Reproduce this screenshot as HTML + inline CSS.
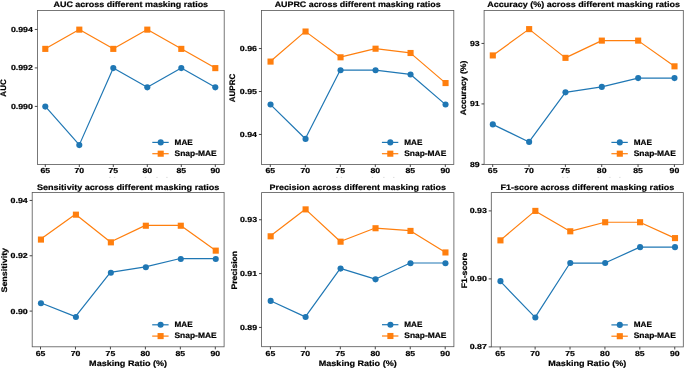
<!DOCTYPE html>
<html><head><meta charset="utf-8"><style>
html,body{margin:0;padding:0;background:#fff;width:685px;height:368px;overflow:hidden}
svg{display:block;will-change:transform}
text{font-family:"Liberation Sans",sans-serif;font-weight:bold;fill:#000;stroke:#000;stroke-width:0.2px;text-rendering:geometricPrecision}
</style></head><body>
<svg width="685" height="368" viewBox="0 0 685 368">
<defs><clipPath id="clipTop"><rect x="0" y="170" width="685" height="8.0"/></clipPath></defs>
<rect width="685" height="368" fill="#fff"/>
<polyline points="45.30,106.40 79.30,144.88 113.30,67.92 147.30,87.16 181.30,67.92 215.30,87.16" fill="none" stroke="#1f77b4" stroke-width="1.2" stroke-linejoin="round"/>
<polyline points="45.30,48.68 79.30,29.44 113.30,48.68 147.30,29.44 181.30,48.68 215.30,67.92" fill="none" stroke="#ff7f0e" stroke-width="1.2" stroke-linejoin="round"/>
<circle cx="45.30" cy="106.60" r="3.05" fill="#1f77b4"/>
<circle cx="79.30" cy="145.08" r="3.05" fill="#1f77b4"/>
<circle cx="113.30" cy="68.12" r="3.05" fill="#1f77b4"/>
<circle cx="147.30" cy="87.36" r="3.05" fill="#1f77b4"/>
<circle cx="181.30" cy="68.12" r="3.05" fill="#1f77b4"/>
<circle cx="215.30" cy="87.36" r="3.05" fill="#1f77b4"/>
<rect x="42.25" y="45.83" width="6.1" height="6.1" fill="#ff7f0e"/>
<rect x="76.25" y="26.59" width="6.1" height="6.1" fill="#ff7f0e"/>
<rect x="110.25" y="45.83" width="6.1" height="6.1" fill="#ff7f0e"/>
<rect x="144.25" y="26.59" width="6.1" height="6.1" fill="#ff7f0e"/>
<rect x="178.25" y="45.83" width="6.1" height="6.1" fill="#ff7f0e"/>
<rect x="212.25" y="65.07" width="6.1" height="6.1" fill="#ff7f0e"/>
<rect x="37.40" y="10.40" width="186.80" height="154.00" fill="none" stroke="#555" stroke-width="0.8"/>
<line x1="45.30" y1="164.40" x2="45.30" y2="167.00" stroke="#333" stroke-width="0.9"/>
<text x="45.30" y="173.40" font-size="7.3" text-anchor="middle" textLength="9.67" lengthAdjust="spacingAndGlyphs">65</text>
<line x1="79.30" y1="164.40" x2="79.30" y2="167.00" stroke="#333" stroke-width="0.9"/>
<text x="79.30" y="173.40" font-size="7.3" text-anchor="middle" textLength="9.67" lengthAdjust="spacingAndGlyphs">70</text>
<line x1="113.30" y1="164.40" x2="113.30" y2="167.00" stroke="#333" stroke-width="0.9"/>
<text x="113.30" y="173.40" font-size="7.3" text-anchor="middle" textLength="9.67" lengthAdjust="spacingAndGlyphs">75</text>
<line x1="147.30" y1="164.40" x2="147.30" y2="167.00" stroke="#333" stroke-width="0.9"/>
<text x="147.30" y="173.40" font-size="7.3" text-anchor="middle" textLength="9.67" lengthAdjust="spacingAndGlyphs">80</text>
<line x1="181.30" y1="164.40" x2="181.30" y2="167.00" stroke="#333" stroke-width="0.9"/>
<text x="181.30" y="173.40" font-size="7.3" text-anchor="middle" textLength="9.67" lengthAdjust="spacingAndGlyphs">85</text>
<line x1="215.30" y1="164.40" x2="215.30" y2="167.00" stroke="#333" stroke-width="0.9"/>
<text x="215.30" y="173.40" font-size="7.3" text-anchor="middle" textLength="9.67" lengthAdjust="spacingAndGlyphs">90</text>
<line x1="34.80" y1="106.40" x2="37.40" y2="106.40" stroke="#333" stroke-width="0.9"/>
<text x="32.90" y="108.90" font-size="7.3" text-anchor="end" textLength="21.98" lengthAdjust="spacingAndGlyphs">0.990</text>
<line x1="34.80" y1="67.92" x2="37.40" y2="67.92" stroke="#333" stroke-width="0.9"/>
<text x="32.90" y="70.42" font-size="7.3" text-anchor="end" textLength="21.98" lengthAdjust="spacingAndGlyphs">0.992</text>
<line x1="34.80" y1="29.44" x2="37.40" y2="29.44" stroke="#333" stroke-width="0.9"/>
<text x="32.90" y="31.94" font-size="7.3" text-anchor="end" textLength="21.98" lengthAdjust="spacingAndGlyphs">0.994</text>
<text x="130.80" y="6.80" font-size="8.0" text-anchor="middle" textLength="154.56" lengthAdjust="spacingAndGlyphs">AUC across different masking ratios</text>
<text transform="translate(6.40,88.00) rotate(-90)" x="0" y="0" font-size="8.0" text-anchor="middle" textLength="17.28" lengthAdjust="spacingAndGlyphs">AUC</text>
<rect x="109.20" y="176.9" width="1.4" height="0.9" fill="#d8d8d8"/>
<rect x="113.90" y="176.9" width="1.4" height="0.9" fill="#d8d8d8"/>
<rect x="144.80" y="176.9" width="1.4" height="0.9" fill="#d8d8d8"/>
<rect x="156.30" y="176.9" width="1.4" height="0.9" fill="#d8d8d8"/>
<rect x="166.20" y="176.9" width="1.4" height="0.9" fill="#d8d8d8"/>
<line x1="152.30" y1="142.40" x2="168.70" y2="142.40" stroke="#1f77b4" stroke-width="1.2"/>
<circle cx="160.70" cy="142.40" r="3.05" fill="#1f77b4"/>
<line x1="152.30" y1="153.70" x2="168.70" y2="153.70" stroke="#ff7f0e" stroke-width="1.2"/>
<rect x="157.65" y="150.65" width="6.1" height="6.1" fill="#ff7f0e"/>
<text x="174.60" y="144.70" font-size="8.0" text-anchor="start" textLength="18.15" lengthAdjust="spacingAndGlyphs">MAE</text>
<text x="174.60" y="155.80" font-size="8.0" text-anchor="start" textLength="42.11" lengthAdjust="spacingAndGlyphs">Snap-MAE</text>
<polyline points="270.30,104.38 305.30,138.73 340.30,70.03 375.30,70.03 410.30,74.32 445.30,104.38" fill="none" stroke="#1f77b4" stroke-width="1.2" stroke-linejoin="round"/>
<polyline points="270.30,61.44 305.30,31.38 340.30,57.15 375.30,48.56 410.30,52.85 445.30,82.91" fill="none" stroke="#ff7f0e" stroke-width="1.2" stroke-linejoin="round"/>
<circle cx="270.55" cy="104.53" r="3.05" fill="#1f77b4"/>
<circle cx="305.55" cy="138.88" r="3.05" fill="#1f77b4"/>
<circle cx="340.55" cy="70.18" r="3.05" fill="#1f77b4"/>
<circle cx="375.55" cy="70.18" r="3.05" fill="#1f77b4"/>
<circle cx="410.55" cy="74.47" r="3.05" fill="#1f77b4"/>
<circle cx="445.55" cy="104.53" r="3.05" fill="#1f77b4"/>
<rect x="267.50" y="58.54" width="6.1" height="6.1" fill="#ff7f0e"/>
<rect x="302.50" y="28.48" width="6.1" height="6.1" fill="#ff7f0e"/>
<rect x="337.50" y="54.25" width="6.1" height="6.1" fill="#ff7f0e"/>
<rect x="372.50" y="45.66" width="6.1" height="6.1" fill="#ff7f0e"/>
<rect x="407.50" y="49.95" width="6.1" height="6.1" fill="#ff7f0e"/>
<rect x="442.50" y="80.01" width="6.1" height="6.1" fill="#ff7f0e"/>
<rect x="261.50" y="10.40" width="192.30" height="154.00" fill="none" stroke="#555" stroke-width="0.8"/>
<line x1="270.30" y1="164.40" x2="270.30" y2="167.00" stroke="#333" stroke-width="0.9"/>
<text x="270.30" y="173.40" font-size="7.3" text-anchor="middle" textLength="9.67" lengthAdjust="spacingAndGlyphs">65</text>
<line x1="305.30" y1="164.40" x2="305.30" y2="167.00" stroke="#333" stroke-width="0.9"/>
<text x="305.30" y="173.40" font-size="7.3" text-anchor="middle" textLength="9.67" lengthAdjust="spacingAndGlyphs">70</text>
<line x1="340.30" y1="164.40" x2="340.30" y2="167.00" stroke="#333" stroke-width="0.9"/>
<text x="340.30" y="173.40" font-size="7.3" text-anchor="middle" textLength="9.67" lengthAdjust="spacingAndGlyphs">75</text>
<line x1="375.30" y1="164.40" x2="375.30" y2="167.00" stroke="#333" stroke-width="0.9"/>
<text x="375.30" y="173.40" font-size="7.3" text-anchor="middle" textLength="9.67" lengthAdjust="spacingAndGlyphs">80</text>
<line x1="410.30" y1="164.40" x2="410.30" y2="167.00" stroke="#333" stroke-width="0.9"/>
<text x="410.30" y="173.40" font-size="7.3" text-anchor="middle" textLength="9.67" lengthAdjust="spacingAndGlyphs">85</text>
<line x1="445.30" y1="164.40" x2="445.30" y2="167.00" stroke="#333" stroke-width="0.9"/>
<text x="445.30" y="173.40" font-size="7.3" text-anchor="middle" textLength="9.67" lengthAdjust="spacingAndGlyphs">90</text>
<line x1="258.90" y1="134.44" x2="261.50" y2="134.44" stroke="#333" stroke-width="0.9"/>
<text x="257.00" y="136.94" font-size="7.3" text-anchor="end" textLength="17.15" lengthAdjust="spacingAndGlyphs">0.94</text>
<line x1="258.90" y1="91.50" x2="261.50" y2="91.50" stroke="#333" stroke-width="0.9"/>
<text x="257.00" y="94.00" font-size="7.3" text-anchor="end" textLength="17.15" lengthAdjust="spacingAndGlyphs">0.95</text>
<line x1="258.90" y1="48.56" x2="261.50" y2="48.56" stroke="#333" stroke-width="0.9"/>
<text x="257.00" y="51.06" font-size="7.3" text-anchor="end" textLength="17.15" lengthAdjust="spacingAndGlyphs">0.96</text>
<text x="357.65" y="6.80" font-size="8.0" text-anchor="middle" textLength="165.99" lengthAdjust="spacingAndGlyphs">AUPRC across different masking ratios</text>
<text transform="translate(235.40,88.00) rotate(-90)" x="0" y="0" font-size="8.0" text-anchor="middle" textLength="28.48" lengthAdjust="spacingAndGlyphs">AUPRC</text>
<rect x="336.05" y="176.9" width="1.4" height="0.9" fill="#d8d8d8"/>
<rect x="340.75" y="176.9" width="1.4" height="0.9" fill="#d8d8d8"/>
<rect x="371.65" y="176.9" width="1.4" height="0.9" fill="#d8d8d8"/>
<rect x="383.15" y="176.9" width="1.4" height="0.9" fill="#d8d8d8"/>
<rect x="393.05" y="176.9" width="1.4" height="0.9" fill="#d8d8d8"/>
<line x1="381.90" y1="142.40" x2="398.30" y2="142.40" stroke="#1f77b4" stroke-width="1.2"/>
<circle cx="390.30" cy="142.40" r="3.05" fill="#1f77b4"/>
<line x1="381.90" y1="153.70" x2="398.30" y2="153.70" stroke="#ff7f0e" stroke-width="1.2"/>
<rect x="387.25" y="150.65" width="6.1" height="6.1" fill="#ff7f0e"/>
<text x="404.20" y="144.70" font-size="8.0" text-anchor="start" textLength="18.15" lengthAdjust="spacingAndGlyphs">MAE</text>
<text x="404.20" y="155.80" font-size="8.0" text-anchor="start" textLength="42.11" lengthAdjust="spacingAndGlyphs">Snap-MAE</text>
<polyline points="492.70,124.38 529.04,141.92 565.38,92.33 601.72,86.88 638.06,78.11 674.40,78.11" fill="none" stroke="#1f77b4" stroke-width="1.2" stroke-linejoin="round"/>
<polyline points="492.70,55.43 529.04,29.12 565.38,57.85 601.72,40.62 638.06,40.62 674.40,66.32" fill="none" stroke="#ff7f0e" stroke-width="1.2" stroke-linejoin="round"/>
<circle cx="492.80" cy="124.38" r="3.05" fill="#1f77b4"/>
<circle cx="529.14" cy="141.92" r="3.05" fill="#1f77b4"/>
<circle cx="565.48" cy="92.33" r="3.05" fill="#1f77b4"/>
<circle cx="601.82" cy="86.88" r="3.05" fill="#1f77b4"/>
<circle cx="638.16" cy="78.11" r="3.05" fill="#1f77b4"/>
<circle cx="674.50" cy="78.11" r="3.05" fill="#1f77b4"/>
<rect x="489.75" y="52.38" width="6.1" height="6.1" fill="#ff7f0e"/>
<rect x="526.09" y="26.07" width="6.1" height="6.1" fill="#ff7f0e"/>
<rect x="562.43" y="54.80" width="6.1" height="6.1" fill="#ff7f0e"/>
<rect x="598.77" y="37.57" width="6.1" height="6.1" fill="#ff7f0e"/>
<rect x="635.11" y="37.57" width="6.1" height="6.1" fill="#ff7f0e"/>
<rect x="671.45" y="63.27" width="6.1" height="6.1" fill="#ff7f0e"/>
<rect x="484.10" y="10.40" width="199.20" height="154.00" fill="none" stroke="#555" stroke-width="0.8"/>
<line x1="492.70" y1="164.40" x2="492.70" y2="167.00" stroke="#333" stroke-width="0.9"/>
<text x="492.70" y="173.40" font-size="7.3" text-anchor="middle" textLength="9.67" lengthAdjust="spacingAndGlyphs">65</text>
<line x1="529.04" y1="164.40" x2="529.04" y2="167.00" stroke="#333" stroke-width="0.9"/>
<text x="529.04" y="173.40" font-size="7.3" text-anchor="middle" textLength="9.67" lengthAdjust="spacingAndGlyphs">70</text>
<line x1="565.38" y1="164.40" x2="565.38" y2="167.00" stroke="#333" stroke-width="0.9"/>
<text x="565.38" y="173.40" font-size="7.3" text-anchor="middle" textLength="9.67" lengthAdjust="spacingAndGlyphs">75</text>
<line x1="601.72" y1="164.40" x2="601.72" y2="167.00" stroke="#333" stroke-width="0.9"/>
<text x="601.72" y="173.40" font-size="7.3" text-anchor="middle" textLength="9.67" lengthAdjust="spacingAndGlyphs">80</text>
<line x1="638.06" y1="164.40" x2="638.06" y2="167.00" stroke="#333" stroke-width="0.9"/>
<text x="638.06" y="173.40" font-size="7.3" text-anchor="middle" textLength="9.67" lengthAdjust="spacingAndGlyphs">85</text>
<line x1="674.40" y1="164.40" x2="674.40" y2="167.00" stroke="#333" stroke-width="0.9"/>
<text x="674.40" y="173.40" font-size="7.3" text-anchor="middle" textLength="9.67" lengthAdjust="spacingAndGlyphs">90</text>
<line x1="481.50" y1="164.40" x2="484.10" y2="164.40" stroke="#333" stroke-width="0.9"/>
<text x="479.60" y="166.90" font-size="7.3" text-anchor="end" textLength="9.67" lengthAdjust="spacingAndGlyphs">89</text>
<line x1="481.50" y1="103.92" x2="484.10" y2="103.92" stroke="#333" stroke-width="0.9"/>
<text x="479.60" y="106.42" font-size="7.3" text-anchor="end" textLength="9.67" lengthAdjust="spacingAndGlyphs">91</text>
<line x1="481.50" y1="43.44" x2="484.10" y2="43.44" stroke="#333" stroke-width="0.9"/>
<text x="479.60" y="45.94" font-size="7.3" text-anchor="end" textLength="9.67" lengthAdjust="spacingAndGlyphs">93</text>
<text x="583.70" y="6.80" font-size="8.0" text-anchor="middle" textLength="192.78" lengthAdjust="spacingAndGlyphs">Accuracy (%) across different masking ratios</text>
<text transform="translate(465.50,88.00) rotate(-90)" x="0" y="0" font-size="8.0" text-anchor="middle" textLength="54.74" lengthAdjust="spacingAndGlyphs">Accuracy (%)</text>
<rect x="562.10" y="176.9" width="1.4" height="0.9" fill="#d8d8d8"/>
<rect x="566.80" y="176.9" width="1.4" height="0.9" fill="#d8d8d8"/>
<rect x="597.70" y="176.9" width="1.4" height="0.9" fill="#d8d8d8"/>
<rect x="609.20" y="176.9" width="1.4" height="0.9" fill="#d8d8d8"/>
<rect x="619.10" y="176.9" width="1.4" height="0.9" fill="#d8d8d8"/>
<line x1="611.40" y1="142.40" x2="627.80" y2="142.40" stroke="#1f77b4" stroke-width="1.2"/>
<circle cx="619.80" cy="142.40" r="3.05" fill="#1f77b4"/>
<line x1="611.40" y1="153.70" x2="627.80" y2="153.70" stroke="#ff7f0e" stroke-width="1.2"/>
<rect x="616.75" y="150.65" width="6.1" height="6.1" fill="#ff7f0e"/>
<text x="633.70" y="144.70" font-size="8.0" text-anchor="start" textLength="18.15" lengthAdjust="spacingAndGlyphs">MAE</text>
<text x="633.70" y="155.80" font-size="8.0" text-anchor="start" textLength="42.11" lengthAdjust="spacingAndGlyphs">Snap-MAE</text>
<polyline points="40.50,302.80 75.46,316.63 110.42,272.37 145.38,266.84 180.34,258.54 215.30,258.54" fill="none" stroke="#1f77b4" stroke-width="1.2" stroke-linejoin="round"/>
<polyline points="40.50,239.17 75.46,214.27 110.42,241.94 145.38,225.34 180.34,225.34 215.30,250.24" fill="none" stroke="#ff7f0e" stroke-width="1.2" stroke-linejoin="round"/>
<circle cx="40.95" cy="303.20" r="3.05" fill="#1f77b4"/>
<circle cx="75.91" cy="317.03" r="3.05" fill="#1f77b4"/>
<circle cx="110.87" cy="272.77" r="3.05" fill="#1f77b4"/>
<circle cx="145.83" cy="267.24" r="3.05" fill="#1f77b4"/>
<circle cx="180.79" cy="258.94" r="3.05" fill="#1f77b4"/>
<circle cx="215.75" cy="258.94" r="3.05" fill="#1f77b4"/>
<rect x="37.90" y="236.52" width="6.1" height="6.1" fill="#ff7f0e"/>
<rect x="72.86" y="211.62" width="6.1" height="6.1" fill="#ff7f0e"/>
<rect x="107.82" y="239.29" width="6.1" height="6.1" fill="#ff7f0e"/>
<rect x="142.78" y="222.69" width="6.1" height="6.1" fill="#ff7f0e"/>
<rect x="177.74" y="222.69" width="6.1" height="6.1" fill="#ff7f0e"/>
<rect x="212.70" y="247.59" width="6.1" height="6.1" fill="#ff7f0e"/>
<rect x="32.20" y="192.50" width="191.90" height="154.30" fill="none" stroke="#555" stroke-width="0.8"/>
<line x1="40.50" y1="346.80" x2="40.50" y2="349.40" stroke="#333" stroke-width="0.9"/>
<text x="40.50" y="355.80" font-size="7.3" text-anchor="middle" textLength="9.67" lengthAdjust="spacingAndGlyphs">65</text>
<line x1="75.46" y1="346.80" x2="75.46" y2="349.40" stroke="#333" stroke-width="0.9"/>
<text x="75.46" y="355.80" font-size="7.3" text-anchor="middle" textLength="9.67" lengthAdjust="spacingAndGlyphs">70</text>
<line x1="110.42" y1="346.80" x2="110.42" y2="349.40" stroke="#333" stroke-width="0.9"/>
<text x="110.42" y="355.80" font-size="7.3" text-anchor="middle" textLength="9.67" lengthAdjust="spacingAndGlyphs">75</text>
<line x1="145.38" y1="346.80" x2="145.38" y2="349.40" stroke="#333" stroke-width="0.9"/>
<text x="145.38" y="355.80" font-size="7.3" text-anchor="middle" textLength="9.67" lengthAdjust="spacingAndGlyphs">80</text>
<line x1="180.34" y1="346.80" x2="180.34" y2="349.40" stroke="#333" stroke-width="0.9"/>
<text x="180.34" y="355.80" font-size="7.3" text-anchor="middle" textLength="9.67" lengthAdjust="spacingAndGlyphs">85</text>
<line x1="215.30" y1="346.80" x2="215.30" y2="349.40" stroke="#333" stroke-width="0.9"/>
<text x="215.30" y="355.80" font-size="7.3" text-anchor="middle" textLength="9.67" lengthAdjust="spacingAndGlyphs">90</text>
<line x1="29.60" y1="311.10" x2="32.20" y2="311.10" stroke="#333" stroke-width="0.9"/>
<text x="27.70" y="313.60" font-size="7.3" text-anchor="end" textLength="17.15" lengthAdjust="spacingAndGlyphs">0.90</text>
<line x1="29.60" y1="255.77" x2="32.20" y2="255.77" stroke="#333" stroke-width="0.9"/>
<text x="27.70" y="258.27" font-size="7.3" text-anchor="end" textLength="17.15" lengthAdjust="spacingAndGlyphs">0.92</text>
<line x1="29.60" y1="200.44" x2="32.20" y2="200.44" stroke="#333" stroke-width="0.9"/>
<text x="27.70" y="202.94" font-size="7.3" text-anchor="end" textLength="17.15" lengthAdjust="spacingAndGlyphs">0.94</text>
<text x="128.15" y="189.50" font-size="8.0" text-anchor="middle" textLength="182.49" lengthAdjust="spacingAndGlyphs">Sensitivity across different masking ratios</text>
<text transform="translate(7.00,270.25) rotate(-90)" x="0" y="0" font-size="8.0" text-anchor="middle" textLength="44.65" lengthAdjust="spacingAndGlyphs">Sensitivity</text>
<text x="128.15" y="365.50" font-size="8.0" text-anchor="middle" textLength="78.02" lengthAdjust="spacingAndGlyphs">Masking Ratio (%)</text>
<line x1="152.20" y1="324.80" x2="168.60" y2="324.80" stroke="#1f77b4" stroke-width="1.2"/>
<circle cx="160.60" cy="324.80" r="3.05" fill="#1f77b4"/>
<line x1="152.20" y1="336.10" x2="168.60" y2="336.10" stroke="#ff7f0e" stroke-width="1.2"/>
<rect x="157.55" y="333.05" width="6.1" height="6.1" fill="#ff7f0e"/>
<text x="174.50" y="327.10" font-size="8.0" text-anchor="start" textLength="18.15" lengthAdjust="spacingAndGlyphs">MAE</text>
<text x="174.50" y="338.20" font-size="8.0" text-anchor="start" textLength="42.11" lengthAdjust="spacingAndGlyphs">Snap-MAE</text>
<polyline points="270.40,300.71 305.36,316.86 340.32,268.41 375.28,279.17 410.24,263.02 445.20,263.02" fill="none" stroke="#1f77b4" stroke-width="1.2" stroke-linejoin="round"/>
<polyline points="270.40,236.10 305.36,209.18 340.32,241.49 375.28,228.03 410.24,230.72 445.20,252.25" fill="none" stroke="#ff7f0e" stroke-width="1.2" stroke-linejoin="round"/>
<circle cx="270.65" cy="300.91" r="3.05" fill="#1f77b4"/>
<circle cx="305.61" cy="317.06" r="3.05" fill="#1f77b4"/>
<circle cx="340.57" cy="268.61" r="3.05" fill="#1f77b4"/>
<circle cx="375.53" cy="279.37" r="3.05" fill="#1f77b4"/>
<circle cx="410.49" cy="263.22" r="3.05" fill="#1f77b4"/>
<circle cx="445.45" cy="263.22" r="3.05" fill="#1f77b4"/>
<rect x="267.60" y="233.25" width="6.1" height="6.1" fill="#ff7f0e"/>
<rect x="302.56" y="206.33" width="6.1" height="6.1" fill="#ff7f0e"/>
<rect x="337.52" y="238.64" width="6.1" height="6.1" fill="#ff7f0e"/>
<rect x="372.48" y="225.18" width="6.1" height="6.1" fill="#ff7f0e"/>
<rect x="407.44" y="227.87" width="6.1" height="6.1" fill="#ff7f0e"/>
<rect x="442.40" y="249.40" width="6.1" height="6.1" fill="#ff7f0e"/>
<rect x="261.60" y="192.60" width="192.30" height="154.10" fill="none" stroke="#555" stroke-width="0.8"/>
<line x1="270.40" y1="346.70" x2="270.40" y2="349.30" stroke="#333" stroke-width="0.9"/>
<text x="270.40" y="355.70" font-size="7.3" text-anchor="middle" textLength="9.67" lengthAdjust="spacingAndGlyphs">65</text>
<line x1="305.36" y1="346.70" x2="305.36" y2="349.30" stroke="#333" stroke-width="0.9"/>
<text x="305.36" y="355.70" font-size="7.3" text-anchor="middle" textLength="9.67" lengthAdjust="spacingAndGlyphs">70</text>
<line x1="340.32" y1="346.70" x2="340.32" y2="349.30" stroke="#333" stroke-width="0.9"/>
<text x="340.32" y="355.70" font-size="7.3" text-anchor="middle" textLength="9.67" lengthAdjust="spacingAndGlyphs">75</text>
<line x1="375.28" y1="346.70" x2="375.28" y2="349.30" stroke="#333" stroke-width="0.9"/>
<text x="375.28" y="355.70" font-size="7.3" text-anchor="middle" textLength="9.67" lengthAdjust="spacingAndGlyphs">80</text>
<line x1="410.24" y1="346.70" x2="410.24" y2="349.30" stroke="#333" stroke-width="0.9"/>
<text x="410.24" y="355.70" font-size="7.3" text-anchor="middle" textLength="9.67" lengthAdjust="spacingAndGlyphs">85</text>
<line x1="445.20" y1="346.70" x2="445.20" y2="349.30" stroke="#333" stroke-width="0.9"/>
<text x="445.20" y="355.70" font-size="7.3" text-anchor="middle" textLength="9.67" lengthAdjust="spacingAndGlyphs">90</text>
<line x1="259.00" y1="327.43" x2="261.60" y2="327.43" stroke="#333" stroke-width="0.9"/>
<text x="257.10" y="329.93" font-size="7.3" text-anchor="end" textLength="17.15" lengthAdjust="spacingAndGlyphs">0.89</text>
<line x1="259.00" y1="273.59" x2="261.60" y2="273.59" stroke="#333" stroke-width="0.9"/>
<text x="257.10" y="276.09" font-size="7.3" text-anchor="end" textLength="17.15" lengthAdjust="spacingAndGlyphs">0.91</text>
<line x1="259.00" y1="219.75" x2="261.60" y2="219.75" stroke="#333" stroke-width="0.9"/>
<text x="257.10" y="222.25" font-size="7.3" text-anchor="end" textLength="17.15" lengthAdjust="spacingAndGlyphs">0.93</text>
<text x="357.75" y="189.50" font-size="8.0" text-anchor="middle" textLength="176.28" lengthAdjust="spacingAndGlyphs">Precision across different masking ratios</text>
<text transform="translate(236.80,270.25) rotate(-90)" x="0" y="0" font-size="8.0" text-anchor="middle" textLength="38.57" lengthAdjust="spacingAndGlyphs">Precision</text>
<text x="357.75" y="365.50" font-size="8.0" text-anchor="middle" textLength="78.02" lengthAdjust="spacingAndGlyphs">Masking Ratio (%)</text>
<line x1="382.00" y1="324.70" x2="398.40" y2="324.70" stroke="#1f77b4" stroke-width="1.2"/>
<circle cx="390.40" cy="324.70" r="3.05" fill="#1f77b4"/>
<line x1="382.00" y1="336.00" x2="398.40" y2="336.00" stroke="#ff7f0e" stroke-width="1.2"/>
<rect x="387.35" y="332.95" width="6.1" height="6.1" fill="#ff7f0e"/>
<text x="404.30" y="327.00" font-size="8.0" text-anchor="start" textLength="18.15" lengthAdjust="spacingAndGlyphs">MAE</text>
<text x="404.30" y="338.10" font-size="8.0" text-anchor="start" textLength="42.11" lengthAdjust="spacingAndGlyphs">Snap-MAE</text>
<polyline points="500.20,281.17 535.11,317.43 570.02,263.03 604.93,263.03 639.84,247.17 674.75,247.17" fill="none" stroke="#1f77b4" stroke-width="1.2" stroke-linejoin="round"/>
<polyline points="500.20,240.37 535.11,210.90 570.02,231.30 604.93,222.23 639.84,222.23 674.75,238.10" fill="none" stroke="#ff7f0e" stroke-width="1.2" stroke-linejoin="round"/>
<circle cx="500.45" cy="281.17" r="3.05" fill="#1f77b4"/>
<circle cx="535.36" cy="317.43" r="3.05" fill="#1f77b4"/>
<circle cx="570.27" cy="263.03" r="3.05" fill="#1f77b4"/>
<circle cx="605.18" cy="263.03" r="3.05" fill="#1f77b4"/>
<circle cx="640.09" cy="247.17" r="3.05" fill="#1f77b4"/>
<circle cx="675.00" cy="247.17" r="3.05" fill="#1f77b4"/>
<rect x="497.40" y="237.32" width="6.1" height="6.1" fill="#ff7f0e"/>
<rect x="532.31" y="207.85" width="6.1" height="6.1" fill="#ff7f0e"/>
<rect x="567.22" y="228.25" width="6.1" height="6.1" fill="#ff7f0e"/>
<rect x="602.13" y="219.18" width="6.1" height="6.1" fill="#ff7f0e"/>
<rect x="637.04" y="219.18" width="6.1" height="6.1" fill="#ff7f0e"/>
<rect x="671.95" y="235.05" width="6.1" height="6.1" fill="#ff7f0e"/>
<rect x="491.30" y="192.60" width="192.00" height="154.30" fill="none" stroke="#555" stroke-width="0.8"/>
<line x1="500.20" y1="346.90" x2="500.20" y2="349.50" stroke="#333" stroke-width="0.9"/>
<text x="500.20" y="355.90" font-size="7.3" text-anchor="middle" textLength="9.67" lengthAdjust="spacingAndGlyphs">65</text>
<line x1="535.11" y1="346.90" x2="535.11" y2="349.50" stroke="#333" stroke-width="0.9"/>
<text x="535.11" y="355.90" font-size="7.3" text-anchor="middle" textLength="9.67" lengthAdjust="spacingAndGlyphs">70</text>
<line x1="570.02" y1="346.90" x2="570.02" y2="349.50" stroke="#333" stroke-width="0.9"/>
<text x="570.02" y="355.90" font-size="7.3" text-anchor="middle" textLength="9.67" lengthAdjust="spacingAndGlyphs">75</text>
<line x1="604.93" y1="346.90" x2="604.93" y2="349.50" stroke="#333" stroke-width="0.9"/>
<text x="604.93" y="355.90" font-size="7.3" text-anchor="middle" textLength="9.67" lengthAdjust="spacingAndGlyphs">80</text>
<line x1="639.84" y1="346.90" x2="639.84" y2="349.50" stroke="#333" stroke-width="0.9"/>
<text x="639.84" y="355.90" font-size="7.3" text-anchor="middle" textLength="9.67" lengthAdjust="spacingAndGlyphs">85</text>
<line x1="674.75" y1="346.90" x2="674.75" y2="349.50" stroke="#333" stroke-width="0.9"/>
<text x="674.75" y="355.90" font-size="7.3" text-anchor="middle" textLength="9.67" lengthAdjust="spacingAndGlyphs">90</text>
<line x1="488.70" y1="346.90" x2="491.30" y2="346.90" stroke="#333" stroke-width="0.9"/>
<text x="486.80" y="349.40" font-size="7.3" text-anchor="end" textLength="17.15" lengthAdjust="spacingAndGlyphs">0.87</text>
<line x1="488.70" y1="278.90" x2="491.30" y2="278.90" stroke="#333" stroke-width="0.9"/>
<text x="486.80" y="281.40" font-size="7.3" text-anchor="end" textLength="17.15" lengthAdjust="spacingAndGlyphs">0.90</text>
<line x1="488.70" y1="210.90" x2="491.30" y2="210.90" stroke="#333" stroke-width="0.9"/>
<text x="486.80" y="213.40" font-size="7.3" text-anchor="end" textLength="17.15" lengthAdjust="spacingAndGlyphs">0.93</text>
<text x="587.30" y="189.50" font-size="8.0" text-anchor="middle" textLength="173.72" lengthAdjust="spacingAndGlyphs">F1-score across different masking ratios</text>
<text transform="translate(466.80,270.35) rotate(-90)" x="0" y="0" font-size="8.0" text-anchor="middle" textLength="36.06" lengthAdjust="spacingAndGlyphs">F1-score</text>
<text x="587.30" y="365.50" font-size="8.0" text-anchor="middle" textLength="78.02" lengthAdjust="spacingAndGlyphs">Masking Ratio (%)</text>
<line x1="611.40" y1="324.90" x2="627.80" y2="324.90" stroke="#1f77b4" stroke-width="1.2"/>
<circle cx="619.80" cy="324.90" r="3.05" fill="#1f77b4"/>
<line x1="611.40" y1="336.20" x2="627.80" y2="336.20" stroke="#ff7f0e" stroke-width="1.2"/>
<rect x="616.75" y="333.15" width="6.1" height="6.1" fill="#ff7f0e"/>
<text x="633.70" y="327.20" font-size="8.0" text-anchor="start" textLength="18.15" lengthAdjust="spacingAndGlyphs">MAE</text>
<text x="633.70" y="338.30" font-size="8.0" text-anchor="start" textLength="42.11" lengthAdjust="spacingAndGlyphs">Snap-MAE</text>
</svg></body></html>
